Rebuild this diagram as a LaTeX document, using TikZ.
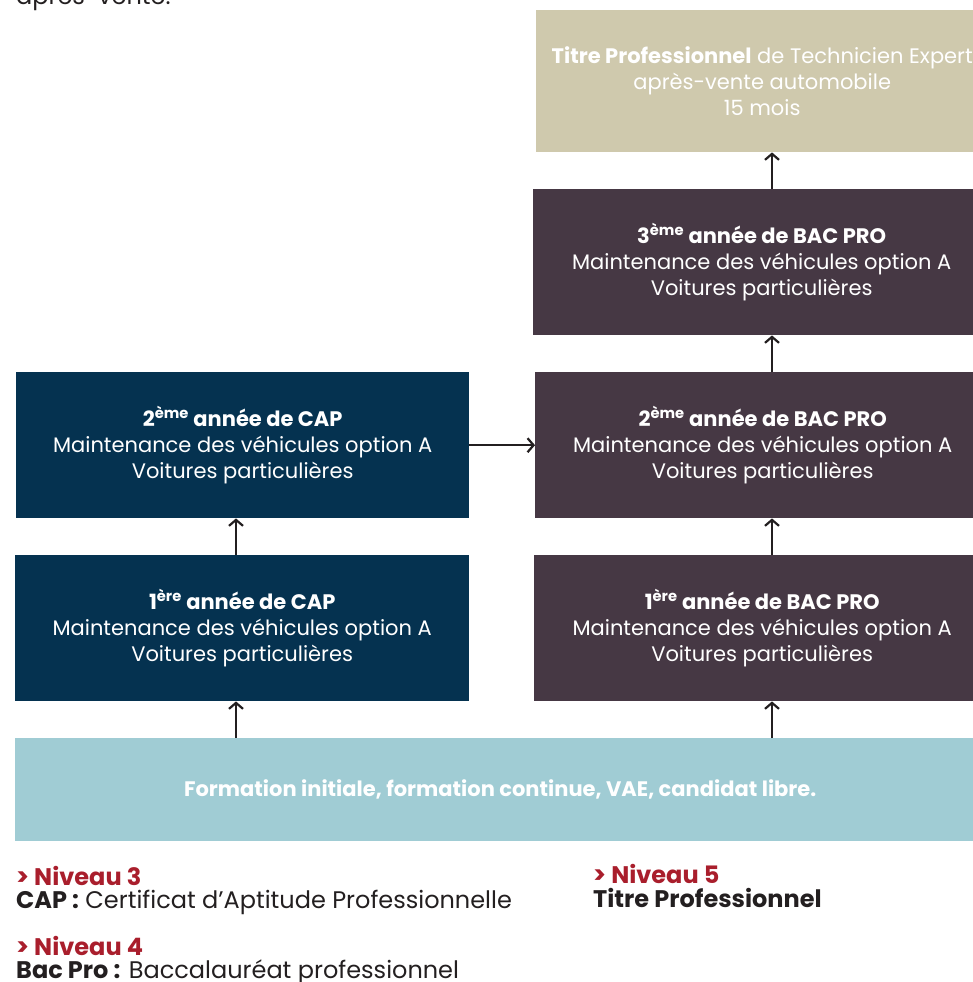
\documentclass[tikz,border=0pt]{standalone}
\usepackage{fontspec}
\setmainfont{Poppins}
\usetikzlibrary{arrows.meta, positioning}

\definecolor{capblue}{HTML}{053250}
\definecolor{bacplum}{HTML}{463844}
\definecolor{titresand}{HTML}{CFC9AD}
\definecolor{accesscyan}{HTML}{A0CCD4}
\definecolor{niveaured}{HTML}{A91E2C}
\definecolor{legendink}{HTML}{231F20}

\newcommand{\rangsup}[1]{\textsuperscript{#1}}

\begin{document}
\begin{tikzpicture}[x=1pt, y=-1pt,
    box/.style={anchor=north west, inner sep=0pt, text=white, align=center,
        font=\fontsize{21}{26}\selectfont},
    flow/.style={line width=2.2pt, draw=legendink, -{Straight Barb[length=6pt, width=14pt]}},
    legend/.style={anchor=base west, inner sep=0pt, text=legendink, align=left,
        font=\fontsize{24}{26}\selectfont}]
\useasboundingbox (0,0) rectangle (973,982);
\clip (0,0) rectangle (973,982);

% text cut off above the picture
\node[legend] (intro) at (16,5) {après-vente.};

% top: professional title
\node[box, fill=titresand, minimum width=452, minimum height=142] (titre) at (536,10)
    {\textbf{Titre Professionnel} de Technicien Expert\\après-vente automobile\\15 mois};

% BAC PRO column
\node[box, fill=bacplum, minimum width=457, minimum height=146] (bac3) at (533,189)
    {\textbf{3\rangsup{ème} année de BAC PRO}\\Maintenance des véhicules option A\\Voitures particulières};
\node[box, fill=bacplum, minimum width=455, minimum height=146] (bac2) at (535,372)
    {\textbf{2\rangsup{ème} année de BAC PRO}\\Maintenance des véhicules option A\\Voitures particulières};
\node[box, fill=bacplum, minimum width=456, minimum height=146] (bac1) at (534,555)
    {\textbf{1\rangsup{ère} année de BAC PRO}\\Maintenance des véhicules option A\\Voitures particulières};

% CAP column
\node[box, fill=capblue, minimum width=453, minimum height=146] (cap2) at (16,372)
    {\textbf{2\rangsup{ème} année de CAP}\\Maintenance des véhicules option A\\Voitures particulières};
\node[box, fill=capblue, minimum width=454, minimum height=146] (cap1) at (15,555)
    {\textbf{1\rangsup{ère} année de CAP}\\Maintenance des véhicules option A\\Voitures particulières};

% access routes
\node[box, fill=accesscyan, minimum width=970, minimum height=103] (acces) at (15,738)
    {\textbf{Formation initiale, formation continue, VAE, candidat libre.}};

% arrows
\draw[flow] (acces.north -| 236,0) -- (cap1.south -| 236,0);
\draw[flow] (cap1.north -| 236,0) -- (cap2.south -| 236,0);
\draw[flow] (acces.north -| 772,0) -- (bac1.south -| 772,0);
\draw[flow] (bac1.north -| 772,0) -- (bac2.south -| 772,0);
\draw[flow] (bac2.north -| 772,0) -- (bac3.south -| 772,0);
\draw[flow] (bac3.north -| 772,0) -- (titre.south -| 772,0);
\draw[flow] (cap2.east) -- (bac2.west);

% legend
\node[legend] (niv3) at (16,885) {\textcolor{niveaured}{\textbf{> Niveau 3}}};
\node[legend] (cap) at (16,908) {\textbf{CAP :} Certificat d’Aptitude Professionnelle};
\node[legend] (niv4) at (16,955) {\textcolor{niveaured}{\textbf{> Niveau 4}}};
\node[legend] (bac) at (16,978) {\textbf{Bac Pro :} Baccalauréat professionnel};
\node[legend] (niv5) at (593,883) {\textcolor{niveaured}{\textbf{> Niveau 5}}};
\node[legend] (tp) at (593,907) {\textbf{Titre Professionnel}};
\end{tikzpicture}
\end{document}
